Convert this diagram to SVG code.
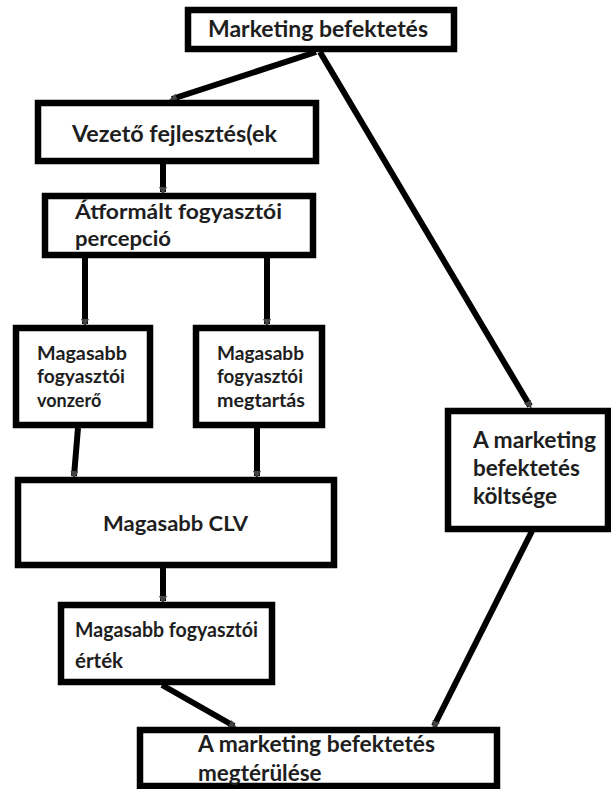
<svg xmlns="http://www.w3.org/2000/svg" width="611" height="789" viewBox="0 0 611 789">
  <style>
    .box { fill: #ffffff; stroke: #000000; stroke-width: 6.5; }
    .lbl { font-family: Lato, "Open Sans", "Liberation Sans", sans-serif; font-weight: 700; fill: #1e1e1e; }
    .big { font-size: 22.5px; }
    .mid { font-size: 20.5px; }
    .sm { font-size: 18px; }
    .tight { font-size: 21px; }
    .wire { stroke: #000000; stroke-width: 6; fill: none; marker-end: url(#tip); }
  </style>
  <defs>
    <marker id="tip" viewBox="0 0 8 8" refX="5" refY="4" markerWidth="8" markerHeight="8" markerUnits="userSpaceOnUse" orient="auto">
      <path d="M0,0 L8,4 L0,8 z" fill="#444444"/>
    </marker>
  </defs>
  <rect width="611" height="789" fill="#ffffff"/>

  <g id="connectors">
    <line class="wire" x1="316" y1="52" x2="172" y2="99"/>
    <line class="wire" x1="320" y1="52" x2="530" y2="406"/>
    <line class="wire" x1="163" y1="164" x2="163" y2="192"/>
    <line class="wire" x1="85" y1="258" x2="85" y2="324"/>
    <line class="wire" x1="267" y1="258" x2="267" y2="324"/>
    <line class="wire" x1="78" y1="428" x2="74" y2="476"/>
    <line class="wire" x1="257" y1="428" x2="257" y2="476"/>
    <line class="wire" x1="163" y1="568" x2="163" y2="601"/>
    <line class="wire" x1="532" y1="531" x2="434" y2="726"/>
    <line class="wire" x1="162" y1="685" x2="234" y2="726"/>
  </g>

  <g id="marketing-befektetes">
    <rect class="box" x="188" y="10" width="266" height="39"/>
    <text class="lbl big" x="208" y="37" textLength="220" lengthAdjust="spacingAndGlyphs">Marketing befektetés</text>
  </g>

  <g id="vezeto-fejlesztesek">
    <rect class="box" x="38" y="103" width="278" height="58"/>
    <text class="lbl big" x="72" y="142" textLength="205" lengthAdjust="spacingAndGlyphs">Vezető fejlesztés(ek</text>
  </g>

  <g id="atformalt-percepcio">
    <rect class="box" x="45" y="196" width="268" height="59"/>
    <text class="lbl tight" x="75" y="219" textLength="207" lengthAdjust="spacingAndGlyphs">Átformált fogyasztói</text>
    <text class="lbl tight" x="75" y="246" textLength="96" lengthAdjust="spacingAndGlyphs">percepció</text>
  </g>

  <g id="vonzero">
    <rect class="box" x="16" y="328" width="134" height="97"/>
    <text class="lbl sm" x="37" y="360" textLength="90" lengthAdjust="spacingAndGlyphs">Magasabb</text>
    <text class="lbl sm" x="37" y="383" textLength="88" lengthAdjust="spacingAndGlyphs">fogyasztói</text>
    <text class="lbl sm" x="37" y="407">vonzerő</text>
  </g>

  <g id="megtartas">
    <rect class="box" x="196" y="328" width="126" height="97"/>
    <text class="lbl sm" x="217" y="360" textLength="87" lengthAdjust="spacingAndGlyphs">Magasabb</text>
    <text class="lbl sm" x="217" y="383" textLength="86" lengthAdjust="spacingAndGlyphs">fogyasztói</text>
    <text class="lbl sm" x="217" y="407" textLength="88" lengthAdjust="spacingAndGlyphs">megtartás</text>
  </g>

  <g id="magasabb-clv">
    <rect class="box" x="18" y="480" width="316" height="85"/>
    <text class="lbl mid" x="103" y="531" textLength="145" lengthAdjust="spacingAndGlyphs">Magasabb CLV</text>
  </g>

  <g id="fogyasztoi-ertek">
    <rect class="box" x="61" y="605" width="211" height="77"/>
    <text class="lbl mid" x="75" y="637" textLength="183" lengthAdjust="spacingAndGlyphs">Magasabb fogyasztói</text>
    <text class="lbl mid" x="75" y="668">érték</text>
  </g>

  <g id="befektetes-koltsege">
    <rect class="box" x="448" y="411" width="160" height="118"/>
    <text class="lbl big" x="473" y="448" textLength="123" lengthAdjust="spacingAndGlyphs">A marketing</text>
    <text class="lbl big" x="473" y="476">befektetés</text>
    <text class="lbl big" x="473" y="504">költsége</text>
  </g>

  <g id="megterules">
    <rect class="box" x="140" y="730" width="357" height="56"/>
    <text class="lbl big" x="198" y="752" textLength="237" lengthAdjust="spacingAndGlyphs">A marketing befektetés</text>
    <text class="lbl big" x="198" y="781">megtérülése</text>
  </g>
</svg>
